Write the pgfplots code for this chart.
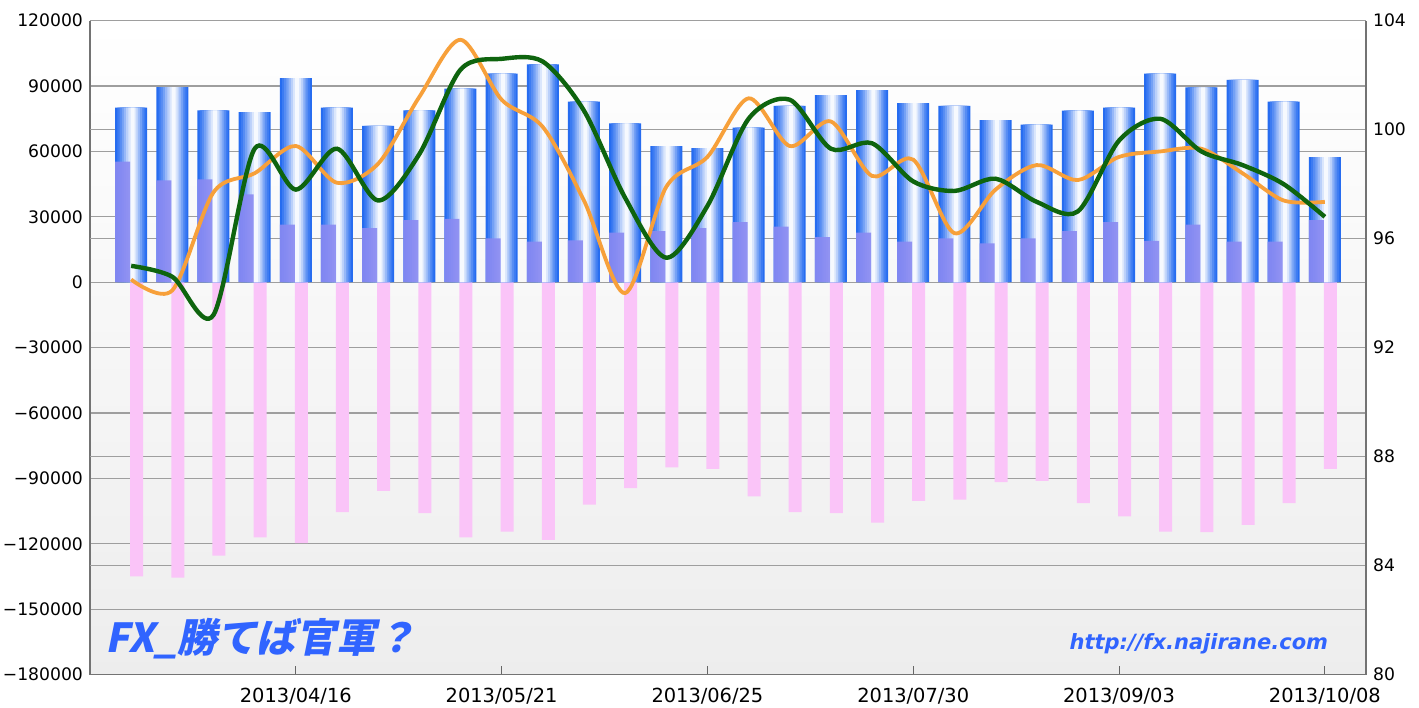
\documentclass[border=0pt]{standalone}
\usepackage{fontspec}
\setmainfont{DejaVu Sans}
\newfontfamily\cjk{Noto Sans CJK JP}[FakeSlant=0.2]
\usepackage{pgfplots}
\pgfplotsset{compat=1.18}
\usepackage{pgfplotstable}

\definecolor{bA}{RGB}{38,108,240}
\definecolor{cpurple}{RGB}{138,138,242}
\definecolor{cpink}{RGB}{250,196,248}
\definecolor{cgreen}{RGB}{14,100,14}
\definecolor{corange}{RGB}{247,160,58}
\definecolor{wm}{RGB}{48,100,255}

\pgfplotstableread{
x total buy sell green orange
0 80100 55300 -135000 95.0 94.5
1 89500 46700 -135500 94.6 94.1
2 78900 47200 -125400 93.2 97.7
3 78100 40300 -117100 99.3 98.4
4 93700 26400 -119700 97.8 99.4
5 80100 26400 -105500 99.3 98.05
6 71700 24800 -95700 97.4 98.75
7 78900 28500 -105900 99.1 101.2
8 88800 29100 -117100 102.2 103.3
9 95700 20100 -114400 102.6 101.1
10 100000 18600 -118200 102.5 100.1
11 82900 19200 -102100 100.7 97.4
12 72900 22700 -94500 97.5 94.0
13 62500 23400 -85000 95.3 97.9
14 61500 24800 -85700 97.2 99.0
15 70900 27600 -98300 100.4 101.15
16 80900 25500 -105500 101.1 99.4
17 85800 20700 -105900 99.3 100.3
18 88100 22800 -110300 99.5 98.3
19 82200 18600 -100300 98.1 98.9
20 80900 20100 -99800 97.75 96.2
21 74400 17800 -91700 98.2 97.8
22 72300 20100 -91100 97.35 98.7
23 78700 23400 -101400 97.0 98.15
24 80100 27600 -107500 99.6 99.0
25 95700 19000 -114400 100.4 99.2
26 89400 26400 -114700 99.2 99.3
27 92800 18600 -111300 98.7 98.4
28 82900 18600 -101400 98.0 97.4
29 57400 28500 -85600 96.8 97.35
}\data

\pgfplotsset{nest/.style={ybar, draw=none}}

\begin{document}
\begin{tikzpicture}
\begin{axis}[
  at={(0pt,0pt)}, anchor=south west, scale only axis,
  width=638pt, height=326.9pt,
  xmin=-1, xmax=30, ymin=-180000, ymax=120000,
  axis x line*=bottom, axis y line*=left,
  axis line style={draw=black!55, line width=0.6pt},
  xtick={4,9,14,19,24,29},
  xticklabels={2013/04/16,2013/05/21,2013/06/25,2013/07/30,2013/09/03,2013/10/08},
  ytick={-180000,-150000,-120000,-90000,-60000,-30000,0,30000,60000,90000,120000},
  yticklabels={−180000,−150000,−120000,−90000,−60000,−30000,0,30000,60000,90000,120000},
  scaled y ticks=false,
  extra y ticks={70000,20000,-80000,-130000},
  extra y tick labels={},
  extra y tick style={grid=major, major tick length=0pt},
  ymajorgrids,
  grid style={draw=black!38, line width=0.6pt},
  tick align=inside, major tick length=4pt,
  xtick style={draw=black!60, line width=0.5pt},
  ytick style={draw=none},
  xticklabel style={font=\fontsize{9.7}{10}\selectfont, yshift=-3.3pt},
  yticklabel style={font=\fontsize{8.6}{9}\selectfont},
  axis background/.style={shade, top color=white, bottom color=black!7},
]
\addplot[ybar, bar width=6.5pt, bar shift=2.75pt, fill=cpink, draw=none] table[x=x,y=sell]{\data};
% blue bars: nested bars forming a horizontal gradient with highlight right of centre
\addplot[nest, bar width=16pt, bar shift=0pt, fill=bA] table[x=x,y=total]{\data};
\addplot[nest, bar width=14pt, bar shift=0.1pt, fill=white!10!bA] table[x=x,y=total]{\data};
\addplot[nest, bar width=12pt, bar shift=0.2pt, fill=white!22!bA] table[x=x,y=total]{\data};
\addplot[nest, bar width=10pt, bar shift=0.3pt, fill=white!36!bA] table[x=x,y=total]{\data};
\addplot[nest, bar width=8pt, bar shift=0.4pt, fill=white!52!bA] table[x=x,y=total]{\data};
\addplot[nest, bar width=6pt, bar shift=0.5pt, fill=white!68!bA] table[x=x,y=total]{\data};
\addplot[nest, bar width=4pt, bar shift=0.6pt, fill=white!83!bA] table[x=x,y=total]{\data};
\addplot[nest, bar width=2pt, bar shift=0.7pt, fill=white!96!bA] table[x=x,y=total]{\data};
\addplot[ybar, bar width=7.5pt, bar shift=-4.25pt, fill=cpurple, draw=none, fill opacity=0.9] table[x=x,y=buy]{\data};
\end{axis}
\begin{axis}[
  at={(0pt,0pt)}, anchor=south west, scale only axis,
  width=638pt, height=326.9pt,
  xmin=-1, xmax=30, ymin=80, ymax=104,
  axis y line*=right, axis x line=none,
  axis line style={draw=black!55, line width=0.6pt},
  ytick={80,84,88,92,96,100,104},
  yticklabels={80,84,88,92,96,100,104},
  ytick style={draw=none},
  yticklabel style={font=\fontsize{8.6}{9}\selectfont},
]
\addplot[smooth, tension=0.5, draw=corange, line width=1.9pt] table[x=x,y=orange]{\data};
\addplot[smooth, tension=0.5, draw=cgreen, line width=2.2pt] table[x=x,y=green]{\data};
\node[anchor=west, text=wm, font=\cjk\bfseries\fontsize{20}{20}\selectfont, inner sep=0pt] at (rel axis cs:0.0118,0.0543) {FX\_勝てば官軍？};
\node[anchor=center, text=wm, font=\bfseries\itshape\fontsize{10.5}{10.5}\selectfont, inner sep=0pt] at (rel axis cs:0.869,0.0474) {http://fx.najirane.com};
\end{axis}
\pgfresetboundingbox
\path (-45pt,-16.25pt) rectangle (664.5pt,337.25pt);
\end{tikzpicture}
\end{document}
